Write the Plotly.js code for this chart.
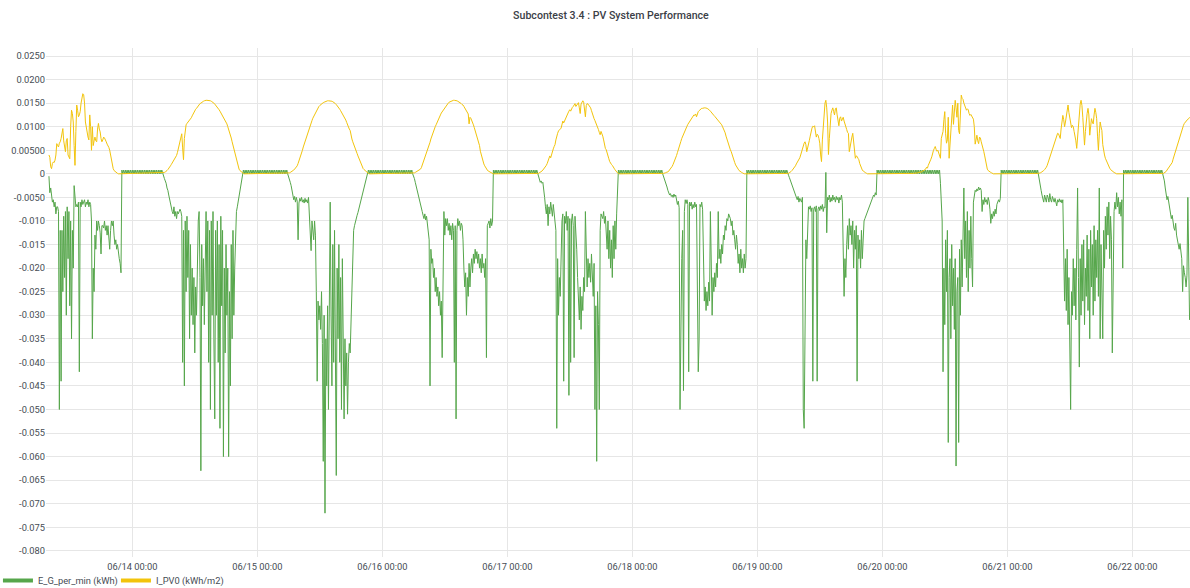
<!DOCTYPE html>
<html>
<head>
<meta charset="utf-8">
<script src="https://cdn.plot.ly/plotly-3.0.1.min.js"></script>
<style>html,body{margin:0;padding:0;background:#fff;}#chart{width:1190px;height:588px;}</style>
</head>
<body>
<div id="chart"></div>
<script>
// ---- sampling: 10-minute readings ----
const STEP_MINUTES = 10;

// ---- E_G_per_min (kWh): daylight readings, start time of each day block ----
const gStarts = ['2023-06-13 08:00','2023-06-14 06:00','2023-06-15 06:00','2023-06-16 06:00','2023-06-17 06:00','2023-06-18 06:00','2023-06-19 06:00','2023-06-20 11:10','2023-06-21 06:00','2023-06-22 06:00'];

const gDay13 = [-0.0005,-0.004,-0.003,-0.005,-0.006,-0.0055,-0.007,-0.006,-0.0085,-0.007,-0.007,-0.008,
-0.050,-0.012,-0.044,-0.012,-0.025,-0.009,
-0.022,-0.008,-0.030,-0.007,-0.018,-0.008,
-0.028,-0.010,-0.035,-0.012,-0.020,-0.0025,
-0.006,-0.007,-0.0065,-0.007,-0.006,-0.042,
-0.006,-0.007,-0.0055,-0.0065,-0.006,-0.0055,
-0.007,-0.006,-0.0065,-0.0055,-0.007,-0.006,
-0.0065,-0.010,-0.035,-0.020,-0.025,-0.013,
-0.016,-0.010,-0.012,-0.010,-0.011,-0.0125,
-0.017,-0.011,-0.011,-0.0115,-0.010,-0.012,
-0.011,-0.013,-0.011,-0.014,-0.016,-0.012,
-0.010,-0.011,-0.010,-0.013,-0.015,-0.014,
-0.016,-0.015,-0.017,-0.018,-0.019,-0.021];
const gNight13 = [0.0008,0,0.0008,0,0.0008,0,0.0008,0,0.0008,0,0.0008,0,0.0008,0,0.0008,0,0.0008,0,0.0008,0,
0.0008,0,0.0008,0,0.0008,0,0.0008,0,0.0008,0,0.0008,0,0.0008,0,0.0008,0,0.0008,0,0.0008,0,
0.0008,0,0.0008,0,0.0008,0,0.0008,0];

const gDay14 = [-0.0005,-0.001,-0.0015,-0.002,-0.003,-0.0035,
-0.0045,-0.0055,-0.0065,-0.0075,-0.008,-0.0085,
-0.007,-0.009,-0.008,-0.0095,-0.008,-0.0085,
-0.008,-0.0075,-0.008,-0.009,-0.040,-0.012,
-0.045,-0.010,-0.025,-0.009,-0.022,-0.012,
-0.035,-0.015,-0.030,-0.020,-0.032,-0.022,
-0.038,-0.024,-0.030,-0.018,-0.010,-0.008,
-0.022,-0.063,-0.015,-0.028,-0.018,-0.032,
-0.012,-0.008,-0.025,-0.010,-0.040,-0.012,
-0.050,-0.010,-0.030,-0.008,-0.035,-0.052,
-0.012,-0.030,-0.010,-0.040,-0.015,-0.054,
-0.009,-0.028,-0.012,-0.060,-0.020,-0.038,
-0.015,-0.030,-0.020,-0.060,-0.025,-0.045,
-0.015,-0.035,-0.012,-0.030,-0.020,-0.010,
-0.008,-0.007,-0.006,-0.005,-0.004,-0.003,
-0.002,-0.001];
const gNight14 = [0.0008,0,0.0008,0,0.0008,0,0.0008,0,0.0008,0,0.0008,0,0.0008,0,0.0008,0,0.0008,0,0.0008,0,
0.0008,0,0.0008,0,0.0008,0,0.0008,0,0.0008,0,0.0008,0,0.0008,0,0.0008,0,0.0008,0,0.0008,0,
0.0008,0,0.0008,0,0.0008,0,0.0008,0,0.0008,0,0.0008,0];

const gDay15 = [-0.0005,-0.001,-0.0018,-0.0025,-0.0033,-0.004,
-0.0055,-0.0048,-0.006,-0.005,-0.0058,-0.014,
-0.0062,-0.0052,-0.0058,-0.005,-0.006,-0.0055,
-0.0062,-0.0052,-0.006,-0.0055,-0.0062,-0.005,
-0.0095,-0.012,-0.0163,-0.010,-0.012,-0.014,
-0.010,-0.013,-0.025,-0.044,-0.027,-0.031,
-0.028,-0.033,-0.025,-0.036,-0.061,-0.030,
-0.072,-0.035,-0.045,-0.028,-0.050,-0.020,
-0.006,-0.030,-0.045,-0.015,-0.040,-0.012,
-0.033,-0.064,-0.020,-0.035,-0.015,-0.040,
-0.022,-0.050,-0.018,-0.030,-0.052,-0.035,
-0.045,-0.038,-0.051,-0.040,-0.036,-0.038,
-0.030,-0.025,-0.020,-0.012,-0.011,-0.010,
-0.0095,-0.0088,-0.0082,-0.0075,-0.0068,-0.006,
-0.0052,-0.0045,-0.0038,-0.003,-0.0022,-0.0015,
-0.0008,-0.0003];
const gNight15 = [0.0008,0,0.0008,0,0.0008,0,0.0008,0,0.0008,0,0.0008,0,0.0008,0,0.0008,0,0.0008,0,0.0008,0,
0.0008,0,0.0008,0,0.0008,0,0.0008,0,0.0008,0,0.0008,0,0.0008,0,0.0008,0,0.0008,0,0.0008,0,
0.0008,0,0.0008,0,0.0008,0,0.0008,0,0.0008,0,0.0008,0];

const gDay16 = [-0.0004,-0.001,-0.0018,-0.0025,-0.0033,-0.004,
-0.0048,-0.0056,-0.0065,-0.0072,-0.008,-0.0088,
-0.0095,-0.0085,-0.0098,-0.009,-0.0105,-0.0112,
-0.014,-0.045,-0.016,-0.019,-0.018,-0.022,
-0.020,-0.025,-0.022,-0.026,-0.024,-0.028,
-0.025,-0.030,-0.027,-0.039,-0.026,-0.008,
-0.013,-0.0095,-0.011,-0.0095,-0.012,-0.0105,
-0.013,-0.011,-0.014,-0.0105,-0.012,-0.040,
-0.011,-0.052,-0.012,-0.0095,-0.011,-0.010,
-0.012,-0.0105,-0.011,-0.014,-0.020,-0.024,
-0.021,-0.030,-0.022,-0.026,-0.019,-0.024,
-0.020,-0.018,-0.021,-0.017,-0.019,-0.016,
-0.018,-0.0165,-0.019,-0.017,-0.020,-0.018,
-0.021,-0.017,-0.020,-0.019,-0.022,-0.018,
-0.039,-0.011,-0.0105,-0.010,-0.0115,-0.0095,
-0.011,-0.010];
const gNight16 = [0.0008,0,0.0008,0,0.0008,0,0.0008,0,0.0008,0,0.0008,0,0.0008,0,0.0008,0,0.0008,0,0.0008,0,
0.0008,0,0.0008,0,0.0008,0,0.0008,0,0.0008,0,0.0008,0,0.0008,0,0.0008,0,0.0008,0,0.0008,0,
0.0008,0,0.0008,0,0.0008,0,0.0008,0,0.0008,0,0.0008,0];

const gDay17 = [-0.0005,-0.0015,-0.0018,-0.0015,-0.002,-0.0018,
-0.003,-0.005,-0.007,-0.0085,-0.0065,-0.011,
-0.007,-0.0085,-0.006,-0.0075,-0.009,-0.0065,
-0.008,-0.0095,-0.012,-0.054,-0.018,-0.030,
-0.022,-0.026,-0.015,-0.010,-0.0085,-0.044,
-0.009,-0.0105,-0.008,-0.012,-0.009,-0.047,
-0.0095,-0.040,-0.010,-0.0085,-0.011,-0.039,
-0.009,-0.012,-0.016,-0.022,-0.026,-0.031,
-0.024,-0.033,-0.026,-0.029,-0.022,-0.025,
-0.008,-0.020,-0.024,-0.018,-0.022,-0.019,
-0.023,-0.017,-0.021,-0.026,-0.019,-0.050,
-0.028,-0.061,-0.025,-0.032,-0.050,-0.012,
-0.0085,-0.009,-0.0095,-0.008,-0.0105,-0.009,
-0.012,-0.016,-0.010,-0.018,-0.012,-0.020,
-0.014,-0.022,-0.011,-0.018,-0.010,-0.016,
-0.0085,-0.001];
const gNight17 = [0.0008,0,0.0008,0,0.0008,0,0.0008,0,0.0008,0,0.0008,0,0.0008,0,0.0008,0,0.0008,0,0.0008,0,
0.0008,0,0.0008,0,0.0008,0,0.0008,0,0.0008,0,0.0008,0,0.0008,0,0.0008,0,0.0008,0,0.0008,0,
0.0008,0,0.0008,0,0.0008,0,0.0008,0,0.0008,0,0.0008,0];

const gDay18 = [-0.0005,-0.001,-0.0015,-0.002,-0.0028,-0.0035,
-0.004,-0.0045,-0.0042,-0.0048,-0.0045,-0.005,
-0.0043,-0.0048,-0.0045,-0.0055,-0.0065,-0.0058,
-0.0072,-0.050,-0.024,-0.018,-0.012,-0.046,
-0.008,-0.0055,-0.0063,-0.0055,-0.0065,-0.042,
-0.006,-0.0068,-0.006,-0.0075,-0.0065,-0.0072,
-0.006,-0.007,-0.0065,-0.030,-0.042,-0.035,
-0.0065,-0.007,-0.006,-0.0075,-0.022,-0.027,
-0.024,-0.029,-0.025,-0.028,-0.023,-0.027,
-0.008,-0.024,-0.030,-0.022,-0.025,-0.021,
-0.024,-0.019,-0.022,-0.008,-0.018,-0.016,
-0.019,-0.015,-0.017,-0.013,-0.014,-0.011,
-0.012,-0.0095,-0.010,-0.0085,-0.009,-0.0095,
-0.011,-0.010,-0.013,-0.012,-0.014,-0.016,
-0.013,-0.015,-0.019,-0.017,-0.021,-0.016,
-0.020,-0.018,-0.021,-0.017,-0.020,-0.018];
const gNight18 = [0.0008,0,0.0008,0,0.0008,0,0.0008,0,0.0008,0,0.0008,0,0.0008,0,0.0008,0,0.0008,0,0.0008,0,
0.0008,0,0.0008,0,0.0008,0,0.0008,0,0.0008,0,0.0008,0,0.0008,0,0.0008,0,0.0008,0,0.0008,0,
0.0008,0,0.0008,0,0.0008,0,0.0008,0];

const gDay19 = [-0.0003,-0.0008,-0.0013,-0.0018,-0.0025,-0.003,
-0.0035,-0.004,-0.0045,-0.005,-0.0055,-0.0048,
-0.006,-0.0052,-0.0058,-0.006,-0.005,-0.050,
-0.054,-0.024,-0.014,-0.018,-0.012,-0.007,
-0.0075,-0.0068,-0.008,-0.0072,-0.044,-0.0075,
-0.007,-0.008,-0.0068,-0.044,-0.0075,-0.007,
-0.0078,-0.0068,-0.0075,-0.0065,-0.008,-0.007,
-0.0072,0.0003,-0.0125,-0.005,-0.0055,-0.0045,
-0.006,-0.005,-0.0058,-0.0045,-0.0055,-0.005,
-0.006,-0.0048,-0.0055,-0.005,-0.0062,-0.005,
-0.0055,-0.0045,-0.006,-0.017,-0.026,-0.018,
-0.022,-0.015,-0.011,-0.016,-0.0095,-0.013,
-0.011,-0.015,-0.010,-0.020,-0.012,-0.016,
-0.011,-0.044,-0.013,-0.018,-0.014,-0.020,
-0.012,-0.018,-0.011,-0.010,-0.0095,-0.009,
-0.0085,-0.008,-0.0075,-0.007,-0.0065,-0.006,
-0.0055,-0.005,-0.0045,-0.0048,-0.004,-0.0045];
const gNight19 = [0.0008,0,0.0008,0,0.0008,0,0.0008,0,0.0008,0,0.0008,0,0.0008,0,0.0008,0,0.0008,0,0.0008,0,
0.0008,0,0.0008,0,0.0008,0,0.0008,0,0.0008,0,0.0008,0,0.0008,0,0.0008,0,0.0008,0,0.0008,0,
0.0008,0,0.0008,0,0.0008,0,0.0008,0,0.0008,0,0.0008,0,0.0008,0,0.0008,0,0.0008,0,0.0008,0,
0.0008,0,0.0008,0,0.0008,0,0.0008,0,0.0008,0,0.0008,0,0.0008];

const gDay20 = [-0.002,-0.006,-0.010,-0.042,-0.020,
-0.032,-0.014,-0.025,-0.012,-0.057,-0.022,
-0.018,-0.035,-0.015,-0.028,-0.020,-0.033,
-0.018,-0.062,-0.025,-0.022,-0.057,-0.016,
-0.030,-0.014,-0.024,-0.012,-0.003,-0.018,
-0.010,-0.022,-0.008,-0.025,-0.012,-0.020,
-0.009,-0.018,-0.024,-0.006,-0.004,-0.0035,
-0.0038,-0.0032,-0.0036,-0.0028,-0.0034,-0.003,
-0.0035,-0.008,-0.0055,-0.0065,-0.005,-0.006,
-0.0055,-0.0065,-0.005,-0.0058,-0.0075,-0.0105,
-0.0085,-0.0095,-0.008,-0.009,-0.0075,-0.0085,
-0.0065,-0.0058,-0.0055,-0.006,-0.0052];
const gNight20 = [0.0008,0,0.0008,0,0.0008,0,0.0008,0,0.0008,0,0.0008,0,0.0008,0,0.0008,0,0.0008,0,0.0008,0,
0.0008,0,0.0008,0,0.0008,0,0.0008,0,0.0008,0,0.0008,0,0.0008,0,0.0008,0,0.0008,0,0.0008,0,
0.0008,0,0.0008];

const gDay21 = [-0.0005,-0.0015,-0.0025,-0.0035,-0.0045,-0.0052,
-0.006,-0.0045,-0.0055,-0.006,-0.0045,-0.005,
-0.006,-0.0042,-0.0055,-0.006,-0.0048,-0.0055,
-0.006,-0.0052,-0.0058,-0.0068,-0.0055,-0.006,
-0.0053,-0.006,-0.0055,-0.0062,-0.0055,-0.015,
-0.027,-0.018,-0.029,-0.016,-0.032,-0.022,
-0.036,-0.050,-0.025,-0.030,-0.018,-0.028,
-0.020,-0.031,-0.016,-0.003,-0.022,-0.041,
-0.018,-0.030,-0.015,-0.027,-0.014,-0.032,
-0.020,-0.026,-0.013,-0.029,-0.016,-0.035,
-0.012,-0.024,-0.015,-0.030,-0.011,-0.027,
-0.014,-0.022,-0.012,-0.026,-0.003,-0.035,
-0.015,-0.022,-0.035,-0.012,-0.020,-0.009,
-0.016,-0.007,-0.013,-0.006,-0.018,-0.009,
-0.014,-0.038,-0.012,-0.008,-0.006,-0.0075,
-0.004,-0.007,-0.005,-0.0085,-0.006,-0.009,
-0.0055,-0.020];
const gNight21 = [0.0008,0,0.0008,0,0.0008,0,0.0008,0,0.0008,0,0.0008,0,0.0008,0,0.0008,0,0.0008,0,0.0008,0,
0.0008,0,0.0008,0,0.0008,0,0.0008,0,0.0008,0,0.0008,0,0.0008,0,0.0008,0,0.0008,0,0.0008,0,
0.0008,0,0.0008,0,0.0008,0];

const gDay22 = [-0.0005,-0.0015,-0.003,-0.0045,-0.0055,-0.0048,
-0.006,-0.007,-0.0082,-0.0095,-0.0088,-0.0105,
-0.0115,-0.012,-0.0105,-0.013,-0.014,-0.0155,
-0.016,-0.0148,-0.017,-0.018,-0.025,-0.0195,
-0.021,-0.022,-0.024,-0.0215,-0.005,-0.023,
-0.031];
const gNight22 = [];

// ---- I_PV0 (kWh/m2): readings per day, start time of each day block ----
const pvStarts = ['2023-06-13 08:00','2023-06-14 06:00','2023-06-15 06:00','2023-06-16 06:00','2023-06-17 06:00','2023-06-18 06:00','2023-06-19 06:00','2023-06-20 06:00','2023-06-21 06:00','2023-06-22 06:00'];

const pv13 = [0.0040,0.0035,0.0015,0.0011,0.0022,0.0025,
0.0024,0.0029,0.0040,0.0064,0.0060,0.0057,
0.0065,0.0068,0.0075,0.0086,0.0096,0.0070,
0.0050,0.0047,0.0070,0.0075,0.0040,0.0036,
0.0032,0.0100,0.0135,0.0128,0.0110,0.0060,
0.0018,0.0090,0.0146,0.0135,0.0121,0.0125,
0.0132,0.0150,0.0167,0.0170,0.0168,0.0150,
0.0110,0.0095,0.0089,0.0078,0.0072,0.0125,
0.0100,0.0050,0.0100,0.0060,0.0070,0.0078,
0.0070,0.0068,0.0095,0.0107,0.0095,0.0089,
0.0075,0.0068,0.0072,0.0078,0.0076,0.0073,
0.0068,0.0063,0.0060,0.0056,0.0050,0.0040,
0.0025,0.0018,0.0011,0.0007,0.0005,0.0003,
0.0002,0.0001,0];
const pv14 = [0.0002,0.0003,0.0004,0.0005,0.0007,0.0009,
0.0011,0.0014,0.0017,0.0020,0.0023,0.0026,
0.0029,0.0032,0.0035,0.0039,0.0045,0.0052,
0.0060,0.0068,0.0075,0.0085,0.0055,0.0030,
0.0075,0.0100,0.0104,0.0107,0.0109,0.0111,
0.0113,0.0116,0.0119,0.0123,0.0127,0.0131,
0.0134,0.0137,0.0139,0.0142,0.0145,0.0147,
0.0149,0.0150,0.0152,0.0153,0.0154,0.0155,
0.0156,0.0156,0.0156,0.0156,0.0156,0.0155,
0.0155,0.0154,0.0153,0.0152,0.0150,0.0148,
0.0146,0.0144,0.0141,0.0138,0.0136,0.0133,
0.0130,0.0126,0.0123,0.0120,0.0117,0.0115,
0.0112,0.0106,0.0100,0.0095,0.0090,0.0083,
0.0076,0.0068,0.0060,0.0053,0.0046,0.0038,
0.0030,0.0022,0.0015,0.0010,0.0007,0.0005,
0.0003,0.0002,0.0001,0];
const pv15 = [0.0001,0.0002,0.0003,0.0004,0.0005,0.0006,
0.0008,0.0010,0.0012,0.0014,0.0017,0.0022,
0.0027,0.0032,0.0038,0.0044,0.0050,0.0057,
0.0063,0.0069,0.0075,0.0082,0.0088,0.0094,
0.0100,0.0104,0.0109,0.0113,0.0118,0.0122,
0.0126,0.0130,0.0133,0.0137,0.0140,0.0143,
0.0145,0.0147,0.0149,0.0150,0.0151,0.0152,
0.0153,0.0154,0.0154,0.0155,0.0155,0.0155,
0.0155,0.0155,0.0154,0.0153,0.0152,0.0150,
0.0149,0.0147,0.0145,0.0142,0.0139,0.0137,
0.0134,0.0131,0.0128,0.0125,0.0121,0.0118,
0.0114,0.0109,0.0103,0.0099,0.0095,0.0092,
0.0078,0.0074,0.0068,0.0062,0.0058,0.0052,
0.0048,0.0043,0.0038,0.0033,0.0028,0.0023,
0.0018,0.0014,0.0011,0.0009,0.0007,0.0005,
0.0003,0.0002,0.0001,0];
const pv16 = [0.0001,0.0002,0.0003,0.0004,0.0005,0.0006,
0.0007,0.0008,0.0010,0.0013,0.0018,0.0024,
0.0030,0.0036,0.0041,0.0046,0.0051,0.0056,
0.0061,0.0067,0.0074,0.0080,0.0086,0.0091,
0.0096,0.0100,0.0104,0.0109,0.0113,0.0117,
0.0121,0.0125,0.0129,0.0132,0.0135,0.0138,
0.0141,0.0144,0.0146,0.0148,0.0150,0.0152,
0.0153,0.0154,0.0155,0.0156,0.0156,0.0156,
0.0156,0.0155,0.0155,0.0154,0.0153,0.0152,
0.0150,0.0149,0.0147,0.0146,0.0143,0.0140,
0.0137,0.0134,0.0131,0.0127,0.0106,0.0120,
0.0118,0.0114,0.0110,0.0104,0.0098,0.0092,
0.0086,0.0081,0.0077,0.0070,0.0060,0.0048,
0.0040,0.0032,0.0026,0.0021,0.0017,0.0013,
0.0010,0.0008,0.0006,0.0005,0.0004,0.0003,
0.0002,0.0001,0];
const pv17 = [0.0001,0.0002,0.0004,0.0005,0.0006,0.0008,
0.0010,0.0012,0.0015,0.0018,0.0022,0.0028,
0.0033,0.0038,0.0034,0.0042,0.0048,0.0053,
0.0058,0.0062,0.0072,0.0082,0.0086,0.0091,
0.0094,0.0095,0.0097,0.0104,0.0112,0.0108,
0.0113,0.0118,0.0121,0.0125,0.0129,0.0133,
0.0136,0.0133,0.0138,0.0141,0.0143,0.0147,
0.0149,0.0143,0.0146,0.0150,0.0151,0.0140,
0.0128,0.0148,0.0154,0.0155,0.0152,0.0140,
0.0121,0.0145,0.0149,0.0148,0.0146,0.0142,
0.0140,0.0134,0.0127,0.0119,0.0117,0.0113,
0.0109,0.0103,0.0098,0.0094,0.0088,0.0083,
0.0090,0.0086,0.0080,0.0072,0.0060,0.0054,
0.0051,0.0046,0.0038,0.0032,0.0026,0.0022,
0.0020,0.0018,0.0016,0.0012,0.0009,0.0006,
0.0004,0.0002,0.0001,0];
const pv18 = [0.0001,0.0001,0.0002,0.0003,0.0003,0.0004,
0.0006,0.0008,0.0010,0.0013,0.0016,0.0020,
0.0024,0.0029,0.0034,0.0039,0.0045,0.0050,
0.0057,0.0063,0.0069,0.0075,0.0080,0.0085,
0.0090,0.0094,0.0098,0.0101,0.0105,0.0108,
0.0111,0.0115,0.0119,0.0121,0.0123,0.0125,
0.0124,0.0127,0.0121,0.0129,0.0132,0.0134,
0.0136,0.0137,0.0139,0.0139,0.0140,0.0140,
0.0140,0.0140,0.0139,0.0138,0.0137,0.0135,
0.0133,0.0130,0.0128,0.0126,0.0124,0.0122,
0.0120,0.0117,0.0115,0.0113,0.0111,0.0109,
0.0107,0.0104,0.0100,0.0096,0.0091,0.0087,
0.0080,0.0073,0.0066,0.0060,0.0055,0.0051,
0.0047,0.0040,0.0034,0.0029,0.0024,0.0019,
0.0015,0.0012,0.0010,0.0007,0.0005,0.0004,
0.0003,0.0002,0.0001,0];
const pv19 = [0.0001,0.0002,0.0003,0.0005,0.0007,0.0009,
0.0011,0.0014,0.0017,0.0021,0.0024,0.0028,
0.0031,0.0034,0.0040,0.0048,0.0055,0.0058,
0.0065,0.0068,0.0062,0.0047,0.0058,0.0065,
0.0071,0.0080,0.0090,0.0097,0.0101,0.0100,
0.0102,0.0090,0.0078,0.0084,0.0082,0.0075,
0.0065,0.0040,0.0026,0.0072,0.0095,0.0131,
0.0150,0.0156,0.0140,0.0110,0.0041,0.0075,
0.0110,0.0128,0.0135,0.0140,0.0132,0.0125,
0.0138,0.0140,0.0125,0.0110,0.0102,0.0118,
0.0121,0.0112,0.0115,0.0120,0.0112,0.0104,
0.0100,0.0094,0.0088,0.0086,0.0047,0.0060,
0.0065,0.0078,0.0086,0.0070,0.0045,0.0033,
0.0038,0.0037,0.0033,0.0030,0.0022,0.0017,
0.0010,0.0008,0.0006,0.0004,0.0003,0.0002,
0.0001,0];
const pv20 = [0.0001,0.0001,0.0001,0.0002,0.0002,0.0002,
0.0003,0.0003,0.0003,0.0004,0.0005,0.0006,
0.0007,0.0008,0.0010,0.0014,0.0012,0.0018,
0.0024,0.0028,0.0031,0.0036,0.0045,0.0050,
0.0054,0.0058,0.0052,0.0048,0.0050,0.0044,
0.0038,0.0033,0.0075,0.0082,0.0090,0.0115,
0.0132,0.0085,0.0065,0.0072,0.0120,0.0033,
0.0062,0.0090,0.0130,0.0146,0.0105,0.0140,
0.0156,0.0140,0.0120,0.0150,0.0092,0.0085,
0.0140,0.0167,0.0160,0.0158,0.0150,0.0145,
0.0140,0.0135,0.0138,0.0136,0.0128,0.0124,
0.0126,0.0122,0.0118,0.0116,0.0100,0.0063,
0.0072,0.0082,0.0070,0.0064,0.0078,0.0076,
0.0068,0.0062,0.0053,0.0047,0.0038,0.0030,
0.0015,0.0010,0.0007,0.0005,0.0004,0.0003,
0.0002,0.0001,0];
const pv21 = [0.0001,0.0001,0.0002,0.0003,0.0004,0.0005,
0.0007,0.0009,0.0011,0.0014,0.0018,0.0024,
0.0030,0.0036,0.0042,0.0048,0.0054,0.0058,
0.0064,0.0070,0.0076,0.0082,0.0086,0.0085,
0.0080,0.0075,0.0095,0.0106,0.0124,0.0115,
0.0100,0.0110,0.0126,0.0138,0.0146,0.0130,
0.0117,0.0108,0.0098,0.0103,0.0100,0.0090,
0.0082,0.0070,0.0054,0.0080,0.0110,0.0139,
0.0148,0.0156,0.0145,0.0120,0.0095,0.0061,
0.0090,0.0117,0.0128,0.0139,0.0125,0.0082,
0.0098,0.0117,0.0110,0.0106,0.0125,0.0139,
0.0130,0.0117,0.0080,0.0050,0.0085,0.0110,
0.0100,0.0092,0.0062,0.0047,0.0040,0.0033,
0.0028,0.0026,0.0020,0.0016,0.0012,0.0009,
0.0007,0.0005,0.0004,0.0003,0.0002,0.0001,
0];
const pv22 = [0.0001,0.0002,0.0003,0.0005,0.0008,0.0011,
0.0014,0.0017,0.0019,0.0021,0.0024,0.0031,
0.0037,0.0043,0.0050,0.0057,0.0065,0.0072,
0.0078,0.0083,0.0088,0.0093,0.0098,0.0103,
0.0107,0.0110,0.0112,0.0114,0.0116,0.0117,
0.0120];

// ---- axis ticks ----
const yTickVals = [0.025,0.02,0.015,0.01,0.005,0,-0.005,-0.01,-0.015,-0.02,-0.025,-0.03,-0.035,-0.04,-0.045,-0.05,-0.055,-0.06,-0.065,-0.07,-0.075,-0.08];
const yTickText = ['0.0250','0.0200','0.0150','0.0100','0.00500','0','-0.0050','-0.010','-0.015','-0.020','-0.025','-0.030','-0.035','-0.040','-0.045','-0.050','-0.055','-0.060','-0.065','-0.070','-0.075','-0.080'];

// ---- build series ----
const STEP_MS = STEP_MINUTES * 60000;
function stamps(start, n) {
  const [d, t] = start.split(' ');
  const [Y, M, D] = d.split('-').map(Number);
  const [h, m] = t.split(':').map(Number);
  const t0 = Date.UTC(Y, M - 1, D, h, m);
  const out = [];
  for (let i = 0; i < n; i++) {
    out.push(new Date(t0 + i * STEP_MS).toISOString().slice(0, 16).replace('T', ' '));
  }
  return out;
}
const gDays = [gDay13,gDay14,gDay15,gDay16,gDay17,gDay18,gDay19,gDay20,gDay21,gDay22];
const gNights = [gNight13,gNight14,gNight15,gNight16,gNight17,gNight18,gNight19,gNight20,gNight21,gNight22];
const pvDays = [pv13,pv14,pv15,pv16,pv17,pv18,pv19,pv20,pv21,pv22];

let gx = [], gy = [];
gDays.forEach((day, k) => {
  const vals = day.concat(gNights[k]);
  gx = gx.concat(stamps(gStarts[k], vals.length));
  gy = gy.concat(vals);
});
let px = [], py = [];
pvDays.forEach((day, k) => {
  px = px.concat(stamps(pvStarts[k], day.length));
  py = py.concat(day);
});

const GREEN = '#56A64B', YELLOW = '#F2C40C';
const FONT = 'Roboto, "Noto Sans", sans-serif';
const TXT = '#464c54';
const FS = 9.3;

const traces = [
  {x: gx, y: gy, type: 'scatter', mode: 'lines', line: {color: GREEN, width: 1}, showlegend: false, hoverinfo: 'skip'},
  {x: px, y: py, type: 'scatter', mode: 'lines', line: {color: YELLOW, width: 1}, showlegend: false, hoverinfo: 'skip'},
  {x: [null], y: [null], type: 'scatter', mode: 'lines', line: {color: GREEN, width: 4}, name: 'E_G_per_min (kWh)'},
  {x: [null], y: [null], type: 'scatter', mode: 'lines', line: {color: YELLOW, width: 4}, name: 'I_PV0 (kWh/m2)'}
];

const layout = {
  width: 1190, height: 588,
  margin: {l: 46, r: 0, t: 48, b: 31, pad: 0, autoexpand: false},
  paper_bgcolor: '#ffffff', plot_bgcolor: '#ffffff',
  font: {family: FONT, size: FS, color: TXT},
  title: {text: 'Subcontest 3.4 : PV System Performance', font: {family: FONT, size: 10.6, color: '#3b4047', weight: 500},
          x: 0.5134, xref: 'container', xanchor: 'center', y: 1 - 15/588, yref: 'container', yanchor: 'middle'},
  xaxis: {type: 'date', range: ['2023-06-13 07:26', '2023-06-22 11:05'],
          tick0: '2023-06-14 00:00', dtick: 86400000, tickformat: '%m/%d %H:%M',
          showgrid: true, gridcolor: '#e6e6e6', gridwidth: 1, zeroline: false, showline: false, ticks: '',
          ticklabelstandoff: 3,
          tickfont: {family: FONT, size: FS, color: TXT}, fixedrange: true, automargin: false},
  yaxis: {range: [-0.0813, 0.0267], tickmode: 'array', tickvals: yTickVals, ticktext: yTickText,
          showgrid: true, gridcolor: '#e6e6e6', gridwidth: 1, zeroline: false, showline: false, ticks: '',
          tickfont: {family: FONT, size: FS, color: TXT}, fixedrange: true, automargin: false},
  showlegend: true,
  legend: {orientation: 'h', x: -0.042, xanchor: 'left', yref: 'container', y: 22/588, yanchor: 'top',
           font: {family: FONT, size: FS, color: TXT}, bgcolor: 'rgba(0,0,0,0)', borderwidth: 0,
           itemwidth: 30, entrywidth: 73, entrywidthmode: 'pixels', traceorder: 'normal'},
  hovermode: false
};

Plotly.newPlot('chart', traces, layout, {displayModeBar: false, staticPlot: true});
</script>
</body>
</html>
